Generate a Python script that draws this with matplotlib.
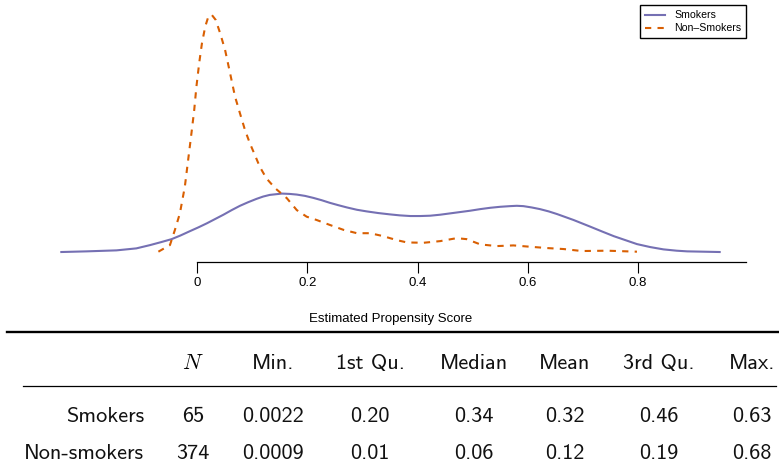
import matplotlib
matplotlib.use("Agg")
import matplotlib.pyplot as plt
from matplotlib.lines import Line2D

# density curves (x = propensity score, y = density)
smokers_x = [-0.246, -0.200, -0.146, -0.110, -0.085, -0.065, -0.046, -0.030, -0.013,
             0.003, 0.018, 0.033, 0.048, 0.063, 0.078, 0.093, 0.108, 0.120, 0.132,
             0.154, 0.168, 0.181, 0.196, 0.211, 0.226, 0.241, 0.256, 0.272, 0.290,
             0.308, 0.329, 0.350, 0.368, 0.387, 0.405, 0.423, 0.441, 0.459, 0.477,
             0.495, 0.514, 0.532, 0.550, 0.568, 0.580, 0.592, 0.607, 0.622, 0.638,
             0.653, 0.668, 0.683, 0.698, 0.713, 0.735, 0.756, 0.777, 0.798, 0.822,
             0.846, 0.870, 0.889, 0.948]
smokers_y = [0.00, 0.02, 0.05, 0.11, 0.21, 0.30, 0.39, 0.50, 0.63,
             0.75, 0.87, 1.00, 1.13, 1.27, 1.40, 1.51, 1.61, 1.68, 1.73,
             1.77, 1.76, 1.74, 1.70, 1.64, 1.57, 1.49, 1.42, 1.35, 1.28,
             1.23, 1.18, 1.14, 1.11, 1.09, 1.09, 1.10, 1.13, 1.17, 1.21,
             1.25, 1.30, 1.34, 1.37, 1.39, 1.40, 1.39, 1.35, 1.30, 1.23,
             1.15, 1.06, 0.97, 0.87, 0.77, 0.62, 0.48, 0.36, 0.24, 0.15,
             0.08, 0.04, 0.02, 0.00]

nonsmokers_x = [-0.070, -0.049, -0.040, -0.031, -0.022, -0.016, -0.010, -0.005, -0.001,
                0.004, 0.009, 0.015, 0.021, 0.027, 0.034, 0.042, 0.051, 0.060,
                0.069, 0.078, 0.087, 0.096, 0.105, 0.114, 0.126, 0.142, 0.163,
                0.181, 0.199, 0.217, 0.241, 0.266, 0.290, 0.314, 0.338, 0.350,
                0.365, 0.381, 0.411, 0.441, 0.471, 0.489, 0.514, 0.544, 0.574,
                0.604, 0.635, 0.665, 0.698, 0.744, 0.798]
nonsmokers_y = [0.01, 0.21, 0.67, 1.17, 1.98, 2.79, 3.60, 4.30, 5.01,
                5.72, 6.32, 6.83, 7.15, 7.18, 7.03, 6.63, 6.12, 5.42,
                4.71, 4.20, 3.70, 3.29, 2.94, 2.58, 2.23, 1.93, 1.63,
                1.27, 1.07, 0.97, 0.82, 0.67, 0.57, 0.57, 0.48, 0.42,
                0.35, 0.29, 0.28, 0.33, 0.42, 0.39, 0.23, 0.18, 0.20,
                0.16, 0.12, 0.09, 0.03, 0.04, 0.01]

ticks = [0, 0.2, 0.4, 0.6, 0.8]
tick_labels = ["0", "0.2", "0.4", "0.6", "0.8"]

# summary table
groups = ["Smokers", "Non-smokers"]
n_obs = [65, 374]
stat_names = ["Min.", "1st Qu.", "Median", "Mean", "3rd Qu.", "Max."]
smokers_stats = [0.0022, 0.20, 0.34, 0.32, 0.46, 0.63]
nonsmokers_stats = [0.0009, 0.01, 0.06, 0.12, 0.19, 0.68]
decimals = [4, 2, 2, 2, 2, 2]

purple = "#7570B3"
orange = "#D95F02"

plt.rcParams["font.family"] = ["Liberation Sans", "DejaVu Sans"]
plt.rcParams["mathtext.fontset"] = "cm"

W, H = 779, 475
fig = plt.figure(figsize=(W / 100, H / 100), dpi=100)
ax = fig.add_axes([35 / W, 1 - 261.5 / H, (746 - 35) / W, (261.5 - 5.5) / H])

ax.plot(smokers_x, smokers_y, color=purple, lw=1.5, label="Smokers")
ax.plot(nonsmokers_x, nonsmokers_y, color=orange, lw=1.5, dashes=(3, 3),
        label="Non\u2013Smokers")

# R-style 4% padding around the data
all_x = smokers_x + nonsmokers_x
all_y = smokers_y + nonsmokers_y
xr = max(all_x) - min(all_x)
yr = max(all_y) - min(all_y)
ax.set_xlim(min(all_x) - 0.04 * xr, max(all_x) + 0.04 * xr)
ax.set_ylim(min(all_y) - 0.04 * yr, max(all_y) + 0.04 * yr)

for s in ["top", "right", "left"]:
    ax.spines[s].set_visible(False)
ax.spines["bottom"].set_bounds(0, ax.get_xlim()[1])
ax.spines["bottom"].set_linewidth(0.9)
ax.set_yticks([])
ax.set_xticks(ticks)
ax.set_xticklabels(tick_labels)
ax.tick_params(axis="x", direction="out", length=8, width=0.8, pad=3.5, labelsize=9.5)
ax.set_xlabel("Estimated Propensity Score", fontsize=9.5, labelpad=17)

leg = ax.legend(loc="upper right", fontsize=7.6, frameon=True, fancybox=False,
                edgecolor="black", framealpha=1, borderaxespad=0,
                handlelength=1.9, handletextpad=0.9, labelspacing=0.3,
                borderpad=0.45)
leg.get_frame().set_linewidth(1.0)

# table below the plot (positions in pixels from the top-left corner)
def fx(px):
    return px / W

def fy(py):
    return 1 - py / H

fig.add_artist(Line2D([fx(7), fx(779)], [fy(332.3), fy(332.3)], color="black", lw=1.7))
fig.add_artist(Line2D([fx(22.7), fx(775.7)], [fy(385.7), fy(385.7)], color="black", lw=0.9))

col_x = [193, 273, 370, 474, 565, 659, 752]
label_right = 144
header_base = 368.7
row_base = [421.7, 459.3]
tfont = dict(family="cmss10", fontsize=16, color="#111111")

fig.text(fx(col_x[0]), fy(header_base), r"$N$", ha="center", va="baseline", fontsize=16)
for name, cx in zip(stat_names, col_x[1:]):
    fig.text(fx(cx), fy(header_base), name, ha="center", va="baseline", **tfont)

for g, n, stats, yb in zip(groups, n_obs, [smokers_stats, nonsmokers_stats], row_base):
    fig.text(fx(label_right), fy(yb), g, ha="right", va="baseline", **tfont)
    fig.text(fx(col_x[0]), fy(yb), str(n), ha="center", va="baseline", **tfont)
    for v, d, cx in zip(stats, decimals, col_x[1:]):
        fig.text(fx(cx), fy(yb), f"{v:.{d}f}", ha="center", va="baseline", **tfont)

fig.savefig("out.png", dpi=100)
